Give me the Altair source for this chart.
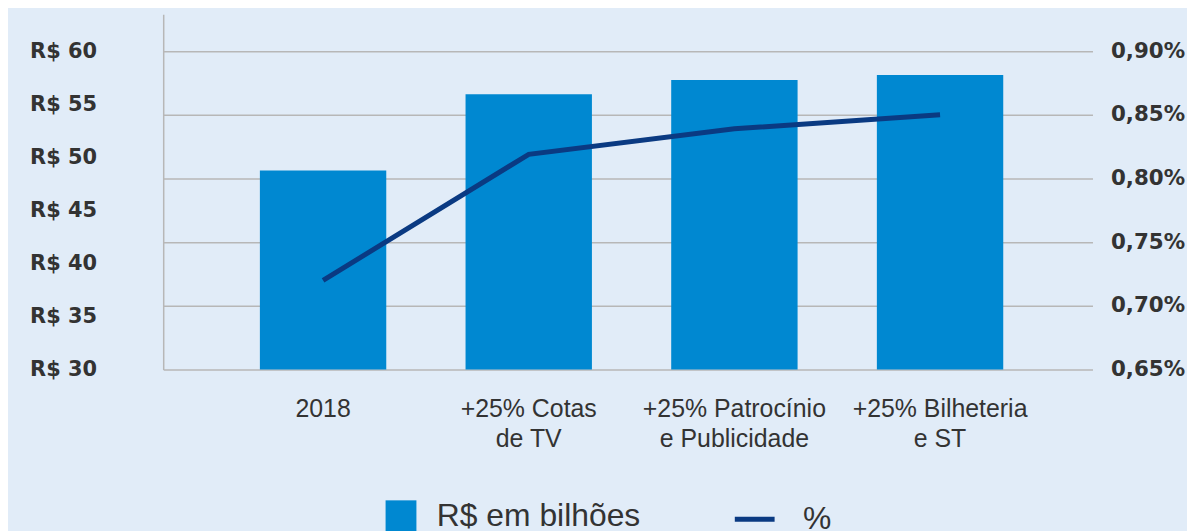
import altair as alt
import pandas as pd

categorias = ["2018", "+25% Cotas\nde TV", "+25% Patrocínio\ne Publicidade", "+25% Bilheteria\ne ST"]
valores_bilhoes = [48.75, 55.94, 57.28, 57.75]
percentuais = [0.720, 0.819, 0.839, 0.850]
ticks_esq = [30, 35, 40, 45, 50, 55, 60]
ticks_dir = [0.65, 0.70, 0.75, 0.80, 0.85, 0.90]

df = pd.DataFrame({
    "categoria": categorias,
    "valor": valores_bilhoes,
    "pct": percentuais,
    "serie_bar": ["R$ em bilhões"] * 4,
    "serie_line": ["%"] * 4,
})

TXT = "#333333"
BAR = "#0088d1"
LINE = "#0a3a82"
GRID = "#b7b7b7"
BOLD_FONT = "DejaVu Sans"
REG_FONT = "Liberation Sans, Arial, sans-serif"

x = alt.X(
    "categoria:N",
    sort=categorias,
    title=None,
    scale=alt.Scale(paddingInner=0.3855, paddingOuter=0.452, align=0.52),
    axis=alt.Axis(
        labelAngle=0,
        domain=False,
        ticks=False,
        labelFont=REG_FONT,
        labelFontSize=25,
        labelColor=TXT,
        labelPadding=27,
        labelBaseline="top",
        labelLineHeight=30,
        labelLimit=0,
        labelExpr="split(datum.label, '\\n')",
    ),
)

bars = alt.Chart(df).mark_bar(color=BAR, clip=True).encode(
    x=x,
    y=alt.Y(
        "valor:Q",
        title=None,
        scale=alt.Scale(domain=[30, 63.47], nice=False, zero=False),
        axis=alt.Axis(
            values=ticks_esq,
            grid=False,
            ticks=False,
            domain=True,
            domainColor=GRID,
            domainWidth=1.5,
            labelFont=BOLD_FONT,
            labelFontWeight="bold",
            labelFontSize=21,
            labelColor=TXT,
            labelPadding=67,
            labelExpr="'R$ ' + datum.value",
        ),
    ),
    fill=alt.Fill(
        "serie_bar:N",
        scale=alt.Scale(domain=["R$ em bilhões"], range=[BAR]),
        legend=alt.Legend(
            title=None,
            orient="none",
            legendX=223,
            legendY=488,
            symbolType="square",
            symbolSize=961,
            symbolStrokeWidth=0,
            labelFont=REG_FONT,
            labelFontSize=32,
            labelColor=TXT,
            labelOffset=20,
            labelLimit=0,
            padding=0,
        ),
    ),
)

line = alt.Chart(df).mark_line(color=LINE, strokeWidth=5).encode(
    x=x,
    y=alt.Y(
        "pct:Q",
        title=None,
        scale=alt.Scale(domain=[0.65, 0.92891], nice=False, zero=False),
        axis=alt.Axis(
            orient="right",
            values=ticks_dir,
            grid=True,
            gridColor=GRID,
            gridWidth=1.5,
            ticks=False,
            domain=False,
            labelFont=BOLD_FONT,
            labelFontWeight="bold",
            labelFontSize=21.5,
            labelColor=TXT,
            labelPadding=18,
            labelExpr="replace(format(datum.value, '.2f'), '.', ',') + '%'",
        ),
    ),
    stroke=alt.Stroke(
        "serie_line:N",
        scale=alt.Scale(domain=["%"], range=[LINE]),
        legend=alt.Legend(
            title=None,
            orient="none",
            legendX=572,
            legendY=485,
            symbolType="stroke",
            symbolSize=1600,
            symbolStrokeWidth=5,
            labelFont=REG_FONT,
            labelFontSize=32,
            labelColor=TXT,
            labelOffset=26,
            labelLimit=0,
            padding=0,
        ),
    ),
)

chart = (
    alt.layer(bars, line)
    .resolve_scale(y="independent")
    .properties(
        width=934,
        height=357,
        background="#e1ecf8",
        padding={"left": 156, "top": 5, "right": 95, "bottom": 170},
        autosize=alt.AutoSizeParams(type="none"),
    )
    .configure_view(stroke=None)
)

chart.save("out.html", embed_options={"renderer": "svg", "actions": False})
